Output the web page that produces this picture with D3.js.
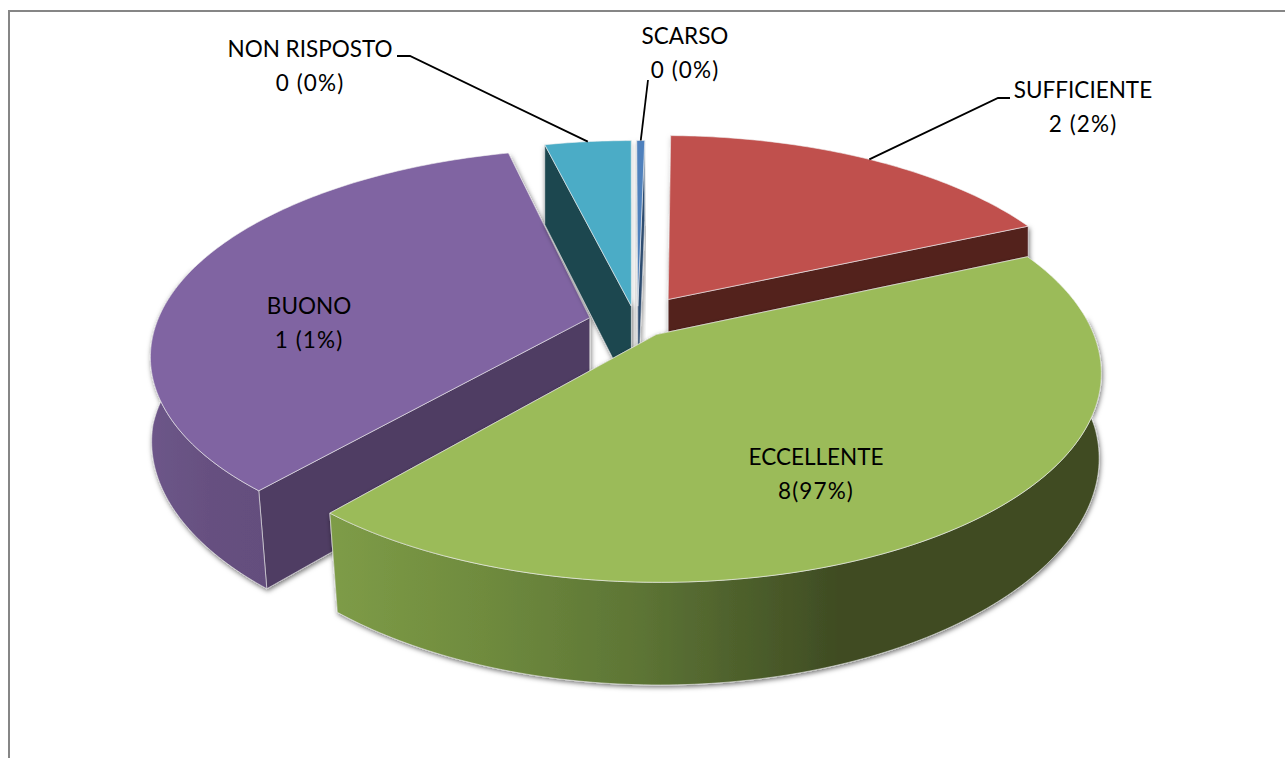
<!DOCTYPE html>
<html><head><meta charset="utf-8">
<script src="https://cdn.jsdelivr.net/npm/d3@7/dist/d3.min.js"></script>
<style>html,body{margin:0;padding:0;background:#fff;overflow:hidden}svg{display:block}text{font-family:Lato,"Open Sans",sans-serif;font-size:22.5px;fill:#000}.n{letter-spacing:1.1px}</style>
</head><body><svg id="c" width="1285" height="758"></svg>
<script>
const categories=["SCARSO","SUFFICIENTE","ECCELLENTE","BUONO","NON RISPOSTO"];
const sliceShares=[0.35,18,43,34.85,3.8];
const labelText=["0 (0%)","2 (2%)","8(97%)","1 (1%)","0 (0%)"];
const explode=[0.07,0.12,0.09,0.115,0.07];
const nudgeU=[-0.001,0.005,-0.012,0,-0.007];
const nudgeV=[0,-0.005,0,0.015,0];
const topColors=["#4f81bd","#c0504d","#9bbb59","#8064a2","#4bacc6"];
const cutColors=["#2f4d71","#52201f","#3e4b22","#4f3d63","#1e4650"];
const cx=638,cy=320,rx=432,ry=199,persp=0.174;
const svg=d3.select("#c"),defs=svg.append("defs");
const f=defs.append("filter").attr("id","sh").attr("x","-10%").attr("y","-10%").attr("width","120%").attr("height","125%");
f.append("feDropShadow").attr("dx",1).attr("dy",2).attr("stdDeviation",2.5).attr("flood-color","#000").attr("flood-opacity",0.55);
const g1=defs.append("linearGradient").attr("id","gw2").attr("gradientUnits","userSpaceOnUse").attr("x1",330).attr("x2",1100).attr("y1",0).attr("y2",0);
[[0,"#7e9c47"],[0.2,"#6f8b3e"],[0.4,"#5d7535"],[0.66,"#3f4c23"],[1,"#3f4c23"]].forEach(s=>g1.append("stop").attr("offset",s[0]).attr("stop-color",s[1]));
const g2=defs.append("linearGradient").attr("id","gw3").attr("gradientUnits","userSpaceOnUse").attr("x1",150).attr("x2",270).attr("y1",0).attr("y2",0);
[[0,"#6d5689"],[0.5,"#665080"],[1,"#644e7d"]].forEach(s=>g2.append("stop").attr("offset",s[0]).attr("stop-color",s[1]));
const wallFill=[topColors[0],cutColors[1],"url(#gw2)","url(#gw3)",cutColors[4]];

svg.append("path").attr("d","M9,758V11H1285").attr("fill","none").attr("stroke","#868686").attr("stroke-width",2);

const pie=d3.pie().sort(null).value(d=>d).startAngle(-0.003)(sliceShares);
function proj(u,v){const w=1/(1-persp*v);return [cx+rx*u*w,cy+ry*v*w];}
function down(p){const d=80+(p[1]-146)*0.052,s=Math.min(1,0.998-(p[1]-350)*0.000136);return [cx+(p[0]-cx)*s,p[1]+d];}
const line=d3.line();
const frontFrom=85*Math.PI/180,frontTo=285*Math.PI/180;
const geo=pie.map((a,i)=>{
  const mid=(a.startAngle+a.endAngle)/2,ou=explode[i]*Math.sin(mid)+nudgeU[i],ov=-explode[i]*Math.cos(mid)+nudgeV[i];
  const pt=t=>proj(ou+Math.sin(t),ov-Math.cos(t));
  const sweep=(t0,t1)=>{const n=Math.max(6,Math.ceil((t1-t0)*60));return d3.range(n+1).map(k=>pt(t0+(t1-t0)*k/n));};
  const f0=Math.max(a.startAngle,frontFrom),f1=Math.min(a.endAngle,frontTo);
  return {i,arc:sweep(a.startAngle,a.endAngle),front:f1>f0?sweep(f0,f1):null,apex:proj(ou,ov),m:pt(mid)};
});
// painter's order: back slices first, the big front slice last
[3,4,0,1,2].forEach(i=>{
  const g=geo[i],A=g.apex,aB=down(A);
  const s=g.arc[0],e=g.arc[g.arc.length-1];
  const walls=svg.append("g").attr("filter","url(#sh)");
  // the cut face reaching further back is drawn first, the outer wall last
  [s,e].sort((p,q)=>p[1]-q[1]).forEach(p=>{
    walls.append("path").attr("d",line([A,p,down(p),aB])+"Z").attr("fill",cutColors[i]).attr("stroke","#e8e8e8").attr("stroke-width",0.6);
  });
  if(g.front) walls.append("path").attr("d",line(g.front.concat(g.front.map(down).reverse()))+"Z").attr("fill",wallFill[i]).attr("stroke","#e8e8e8").attr("stroke-width",0.6);
  svg.append("path").attr("d",line([A].concat(g.arc))+"Z").attr("fill",topColors[i]).attr("stroke","#f2f2f2").attr("stroke-width",0.6);
});
// labels
const labelPos=[[685,44],[1083,98],[816,465],[309,314],[310,57]];
categories.forEach((c,i)=>{
  const t=svg.append("text").attr("text-anchor","middle").attr("x",labelPos[i][0]);
  t.append("tspan").attr("x",labelPos[i][0]).attr("y",labelPos[i][1]).text(c);
  t.append("tspan").attr("class","n").attr("x",labelPos[i][0]).attr("y",labelPos[i][1]+33.5).text(labelText[i]);
});
const leaders=[[[648,80],geo[0].m],[[1010,98],[998,98],geo[1].m],[[397,56],[410,56],geo[4].m]];
leaders.forEach(l=>svg.append("path").attr("d",line(l)).attr("fill","none").attr("stroke","#000").attr("stroke-width",1.8));
</script></body></html>
